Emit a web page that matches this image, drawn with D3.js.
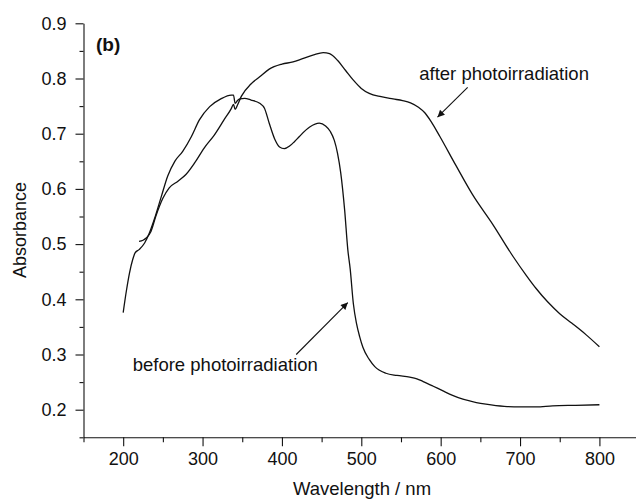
<!DOCTYPE html>
<html>
<head>
<meta charset="utf-8">
<script src="https://cdn.jsdelivr.net/npm/d3@7"></script>
<style>
  body { margin: 0; background: #fff; }
  svg text { font-family: "Liberation Sans", Arial, sans-serif; fill: #111; }
  .axis path, .axis line { stroke: #111; stroke-width: 1.1; }
  .axis text { font-size: 18px; }
</style>
</head>
<body>
<svg id="chart" width="636" height="500"></svg>
<script>
// spectrum before photoirradiation
var beforeWl = [200, 204, 208, 212, 215, 220, 227, 233, 239, 248, 256, 265, 275, 286, 296, 309, 323, 336, 339, 341,
    344, 347, 353, 361, 372, 378, 384, 391, 397, 403, 410, 416, 422, 435, 447, 455, 461, 466, 470, 474, 479, 483, 486,
    490, 494, 498, 502, 510, 517, 531, 545, 561, 570, 578, 590, 603, 615, 628, 645, 657, 680, 700, 720, 741, 770, 800];
var beforeAbs = [0.376, 0.415, 0.448, 0.472, 0.484, 0.490, 0.502, 0.520, 0.544, 0.586, 0.623, 0.650, 0.668, 0.695, 0.725, 0.749, 0.763, 0.770, 0.770, 0.755,
    0.760, 0.763, 0.764, 0.761, 0.755, 0.746, 0.719, 0.690, 0.676, 0.673, 0.678, 0.686, 0.695, 0.712, 0.719, 0.714, 0.704, 0.688, 0.665, 0.630, 0.562, 0.490, 0.455,
    0.392, 0.356, 0.332, 0.313, 0.291, 0.278, 0.266, 0.262, 0.259, 0.256, 0.251, 0.243, 0.234, 0.226, 0.219, 0.213, 0.210, 0.206, 0.205, 0.205, 0.207, 0.208, 0.209];

// spectrum after photoirradiation
var afterWl = [220, 225, 229, 235, 241, 250, 258, 269, 279, 290, 302, 315, 327, 336, 339, 341, 344, 349, 361, 372,
    384, 400, 414, 426, 440, 452, 460, 470, 480, 490, 500, 510, 525, 540, 552, 562, 572, 580, 588, 599, 619, 640, 666,
    691, 708, 720, 735, 750, 765, 783, 800];
var afterAbs = [0.505, 0.507, 0.511, 0.523, 0.550, 0.583, 0.602, 0.614, 0.626, 0.647, 0.674, 0.698, 0.725, 0.745, 0.753, 0.744, 0.752, 0.768, 0.790, 0.803,
    0.817, 0.826, 0.830, 0.836, 0.843, 0.847, 0.845, 0.833, 0.815, 0.797, 0.782, 0.773, 0.767, 0.763, 0.760, 0.756, 0.748, 0.738, 0.722, 0.695, 0.643, 0.590, 0.535,
    0.478, 0.443, 0.420, 0.395, 0.374, 0.357, 0.336, 0.314];

var xTicks = [200, 300, 400, 500, 600, 700, 800];
var xMinor = [150, 250, 350, 450, 550, 650, 750];
var yTicks = [0.2, 0.3, 0.4, 0.5, 0.6, 0.7, 0.8, 0.9];
var yMinor = [0.15, 0.25, 0.35, 0.45, 0.55, 0.65, 0.75, 0.85];

// annotations: text anchor and arrow [from, to] in data units
var labels = ["after photoirradiation", "before photoirradiation"];
var labelPos = [[573, 0.797], [212, 0.270]];
var arrowFrom = [[634, 0.784], [418, 0.300]];
var arrowTo = [[596, 0.730], [483, 0.394]];

var svg = d3.select("#chart");
var x = d3.scaleLinear().domain([150, 850]).range([83.5, 639.1]);
var y = d3.scaleLinear().domain([0.15, 0.9]).range([437.3, 23.3]);

// axes, major then minor ticks
svg.append("g").attr("class", "axis").attr("transform", "translate(0," + y(0.15) + ")")
    .call(d3.axisBottom(x).tickValues(xTicks).tickFormat(d3.format("d")).tickSize(9).tickSizeOuter(0).tickPadding(6));
svg.append("g").attr("class", "axis").attr("transform", "translate(0," + y(0.15) + ")")
    .call(d3.axisBottom(x).tickValues(xMinor).tickFormat("").tickSize(5).tickSizeOuter(0))
    .select(".domain").remove();
svg.append("g").attr("class", "axis").attr("transform", "translate(" + x(150) + ",0)")
    .call(d3.axisLeft(y).tickValues(yTicks).tickFormat(d3.format(".1f")).tickSize(8).tickSizeOuter(0).tickPadding(9));
svg.append("g").attr("class", "axis").attr("transform", "translate(" + x(150) + ",0)")
    .call(d3.axisLeft(y).tickValues(yMinor).tickFormat("").tickSize(4).tickSizeOuter(0))
    .select(".domain").remove();

// axis titles
svg.append("text").attr("x", 362).attr("y", 495).attr("text-anchor", "middle")
    .style("font-size", "18.5px").text("Wavelength / nm");
svg.append("text").attr("transform", "translate(26,230) rotate(-90)").attr("text-anchor", "middle")
    .style("font-size", "18px").text("Absorbance");
svg.append("text").attr("x", 96).attr("y", 51).style("font-size", "19px").style("font-weight", "bold").text("(b)");

// spectra
var line = d3.line().x(function(d) { return x(d[0]); }).y(function(d) { return y(d[1]); }).curve(d3.curveMonotoneX);
var series = [d3.zip(beforeWl, beforeAbs), d3.zip(afterWl, afterAbs)];
svg.selectAll("path.spec").data(series).enter().append("path").attr("class", "spec")
    .attr("d", line).attr("fill", "none").attr("stroke", "#111").attr("stroke-width", 1.3);

// arrows
svg.append("defs").append("marker").attr("id", "head")
    .attr("viewBox", "0 0 10 10").attr("refX", 10).attr("refY", 5)
    .attr("markerWidth", 9).attr("markerHeight", 7).attr("markerUnits", "userSpaceOnUse")
    .attr("orient", "auto")
    .append("path").attr("d", "M0,0L10,5L0,10z").attr("fill", "#111");

for (var i = 0; i < labels.length; i++) {
    svg.append("text").attr("x", x(labelPos[i][0])).attr("y", y(labelPos[i][1]))
        .style("font-size", "18.5px").text(labels[i]);
    svg.append("line")
        .attr("x1", x(arrowFrom[i][0])).attr("y1", y(arrowFrom[i][1]))
        .attr("x2", x(arrowTo[i][0])).attr("y2", y(arrowTo[i][1]))
        .attr("stroke", "#111").attr("stroke-width", 1.1).attr("marker-end", "url(#head)");
}
</script>
</body>
</html>
